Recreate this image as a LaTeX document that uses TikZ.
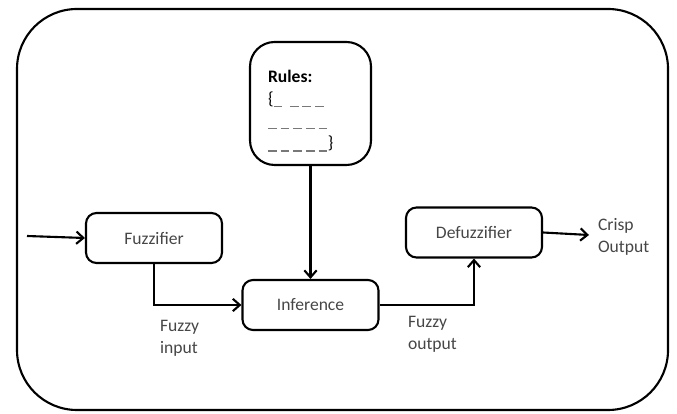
\documentclass[tikz,border=0pt]{standalone}
\usepackage{fontspec}
\setmainfont{Carlito}
\usepackage{tikz}
\usetikzlibrary{arrows.meta,calc}
\definecolor{txtgray}{RGB}{70,70,70}
\definecolor{dshgray}{RGB}{120,120,120}
\newcommand{\dsh}{{\color{dshgray}\rule[-1.6pt]{5pt}{0.7pt}}\hspace{2.2pt}}

\begin{document}
\begin{tikzpicture}[x=0.2mm,y=-0.2mm,line width=1.2pt,
  >={Straight Barb[length=4pt,width=7pt]},
  block/.style={draw,line width=1.2pt,rounded corners=6pt,minimum width=2.72cm,minimum height=1cm,
    text=txtgray,font=\fontsize{10}{12}\selectfont},
  lbl/.style={anchor=west,inner sep=0pt,align=left,text=txtgray,
    font=\fontsize{10}{12.5}\selectfont}]
\useasboundingbox (0,0) rectangle (677,414);
\draw[rounded corners=1.2cm] (17,9) rectangle (668,410);
\node[block,rounded corners=14pt,minimum width=2.42cm,minimum height=2.46cm] (rules) at (310.5,103.5) {};
\node[lbl,anchor=north west,text=black,font=\fontsize{10}{12.6}\selectfont] (rulestext) at (267,69)
  {\textbf{Rules:}\\ \{\dsh\hspace{2pt}\dsh\dsh\dsh\\ \dsh\dsh\dsh\dsh\dsh\\ \dsh\dsh\dsh\dsh\dsh\hspace{-2pt}\}};
\node[block] (fuzzifier) at (154,238) {Fuzzifier};
\node[block] (inference) at (310.5,305) {Inference};
\node[block] (defuzzifier) at (474,232.5) {Defuzzifier};
\coordinate (in) at (27,236);
\coordinate (out) at (589,235);
\node[lbl] (fuzzyin) at (159,338) {Fuzzy\\input};
\node[lbl] (fuzzyout) at (407,334) {Fuzzy\\output};
\node[lbl] (crisp) at (597,237) {Crisp\\Output};
\draw[->] (in) -- (fuzzifier.west);
\draw[->] (fuzzifier.south) |- (inference.west);
\draw[->] (rules.south) -- (inference.north);
\draw[->] (inference.east) -| (defuzzifier.south);
\draw[->] (defuzzifier.east) -- (out);
\end{tikzpicture}
\end{document}
